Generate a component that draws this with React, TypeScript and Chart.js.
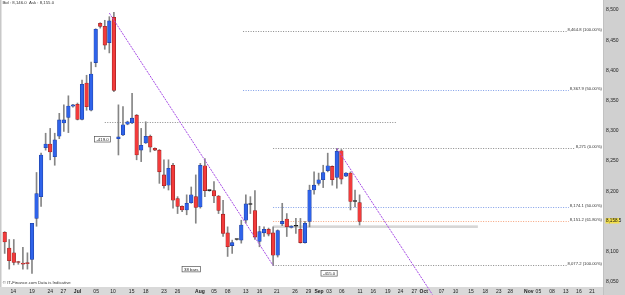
import React, { useEffect, useRef } from "react";
import { Chart, registerables } from "chart.js";

Chart.register(...registerables);

// ---- Daily candles (index = trading bar) ----
const opens = [
  8132, 8106, 8098, 8083, 8081, 8082, 8087, 8155, 8191, 8272,
  8278, 8257, 8291, 8313, 8322, 8341, 8344, 8319, 8379, 8334,
  8413, 8478, 8473, 8446, 8488, 8287, 8293, 8311, 8313, 8326,
  8268, 8280, 8291, 8271, 8268, 8227, 8210, 8243, 8188, 8175,
  8169, 8181, 8191, 8174, 8242, 8201, 8201, 8192, 8162, 8131,
  8110, 8120, 8119, 8152, 8178, 8168, 8117, 8131, 8137, 8131,
  8094, 8146, 8154, 8140, 8142, 8137, 8115, 8150, 8202, 8213,
  8219, 8234, 8241, 8223, 8267, 8225, 8230, 8183, 8181,
];
const highs = [
  8133, 8120, 8120, 8084, 8107, 8098, 8147, 8231, 8263, 8296,
  8304, 8296, 8329, 8343, 8358, 8344, 8346, 8384, 8392, 8414,
  8469, 8479, 8483, 8489, 8496, 8343, 8340, 8316, 8362, 8327,
  8304, 8315, 8293, 8272, 8269, 8252, 8252, 8246, 8191, 8176,
  8194, 8207, 8227, 8246, 8254, 8202, 8216, 8193, 8185, 8141,
  8119, 8121, 8152, 8194, 8191, 8201, 8142, 8141, 8139, 8141,
  8136, 8180, 8163, 8143, 8155, 8155, 8150, 8210, 8232, 8230,
  8243, 8263, 8242, 8271, 8269, 8231, 8232, 8202, 8194,
];
const lows = [
  8097, 8071, 8078, 8079, 8071, 8071, 8064, 8142, 8175, 8268,
  8252, 8243, 8287, 8299, 8297, 8339, 8318, 8318, 8334, 8333,
  8406, 8470, 8435, 8429, 8365, 8260, 8292, 8310, 8312, 8252,
  8249, 8279, 8265, 8267, 8213, 8205, 8202, 8172, 8163, 8166,
  8161, 8180, 8147, 8172, 8191, 8200, 8181, 8163, 8125, 8092,
  8097, 8119, 8114, 8147, 8163, 8120, 8108, 8125, 8126, 8077,
  8091, 8143, 8125, 8139, 8130, 8114, 8114, 8141, 8195, 8210,
  8206, 8232, 8210, 8205, 8212, 8224, 8169, 8174, 8144,
];
const closes = [
  8116, 8085, 8082, 8082, 8079, 8080, 8147, 8196, 8260, 8278,
  8265, 8285, 8318, 8318, 8341, 8343, 8319, 8377, 8340, 8394,
  8468, 8473, 8442, 8482, 8367, 8290, 8310, 8315, 8321, 8260,
  8276, 8291, 8273, 8268, 8232, 8209, 8238, 8185, 8175, 8169,
  8180, 8194, 8173, 8243, 8201, 8201, 8192, 8168, 8130, 8108,
  8115, 8120, 8144, 8179, 8178, 8124, 8133, 8137, 8129, 8094,
  8135, 8150, 8141, 8142, 8142, 8115, 8147, 8202, 8210, 8219,
  8231, 8242, 8219, 8266, 8220, 8230, 8183, 8183, 8150,
];

// ---- Date axis ----
const tickPositions = [
  1.9, 6, 10, 12.9, 16, 20.1, 23.8, 27.9, 31, 35, 38, 42.9, 46, 49, 53, 56,
  59.8, 63.8, 66.8, 69.1, 71.3, 74.1, 78.1, 81, 84.2, 87, 90, 92.1, 96, 99.1,
  102.5, 105.6, 108.6, 111.1, 115.2, 117.3, 120.3, 123.3, 126.2, 129.1,
];
const tickLabels = [
  "14", "19", "24", "27", "Jul", "05", "10", "15", "18", "23", "26", "Aug", "05", "08", "13", "16",
  "21", "26", "29", "Sep", "03", "06", "11", "16", "19", "24", "27", "Oct", "07", "10",
  "15", "18", "23", "28", "Nov", "05", "08", "13", "16", "21",
];
const monthLabels = ["Jul", "Aug", "Sep", "Oct", "Nov"];

// ---- Trend lines ----
const trendA_x = [23, 59];
const trendA_y = [8495, 8077];
const trendB_x = [73, 94];
const trendB_y = [8271, 8029];

// ---- Fibonacci levels ----
const fibValues = [8464.8, 8367.9, 8271, 8174.1, 8151.2, 8077.2];
const fibLabels = [
  "8,464.8 (100.00%)",
  "8,367.9 (50.00%)",
  "8,271 (0.00%)",
  "8,174.1 (50.00%)",
  "8,151.2 (61.80%)",
  "8,077.2 (100.00%)",
];
const fibStarts = [52.4, 52.4, 59, 59, 59, 59];
const fibColors = ["#8a8a8a", "#7f9ee8", "#8a8a8a", "#7f9ee8", "#f6a37c", "#8a8a8a"];

// other horizontal marks
const hLineValue = 8314.6;
const hLineRange = [22, 86.2];
const bandValue = 8141.3;
const bandRange = [59, 104];

// measurement notes
const noteTexts = ["-419.0", "38 bars", "-415.0"];
const noteX = [21.5, 41, 71.3];
const noteY = [8286, 8071, 8064];

const priceTagText = "8,158.5";
const priceTagAt = 8151;
const headerText = "Bid : 8,146.0  Ask : 8,155.0";
const footerText = "\u00a9 IT-Finance.com Data is Indicative";

const FONT = "'Liberation Sans', Arial, sans-serif";

const fmt = (v: number) => {
  const s = Math.round(v).toString();
  return s.length > 3 ? s.slice(0, s.length - 3) + "," + s.slice(s.length - 3) : s;
};

const decor = {
  id: "decor",
  beforeDraw(chart: any) {
    const { ctx, chartArea, width, height } = chart;
    ctx.save();
    ctx.fillStyle = "#ffffff";
    ctx.fillRect(0, 0, width, height);
    ctx.fillStyle = "#d9d9d9";
    ctx.fillRect(0, chartArea.bottom, width, height - chartArea.bottom);
    ctx.fillStyle = "#d0d0d0";
    ctx.fillRect(chartArea.right, 0, width - chartArea.right, height);
    ctx.fillStyle = "#bdbdbd";
    ctx.fillRect(chartArea.right, 0, 0.8, height);
    ctx.fillStyle = "#c8c8c8";
    ctx.fillRect(0, 0, 1.5, chartArea.bottom);
    ctx.restore();
  },
  beforeDatasetsDraw(chart: any) {
    const { ctx, chartArea, scales } = chart;
    const xs = scales.x;
    const ys = scales.y;
    ctx.save();
    ctx.beginPath();
    ctx.rect(chartArea.left, chartArea.top, chartArea.right - chartArea.left, chartArea.bottom - chartArea.top);
    ctx.clip();

    // gray band
    const by = ys.getPixelForValue(bandValue);
    ctx.fillStyle = "#d6d6d6";
    const bx0 = xs.getPixelForValue(bandRange[0]);
    const bx1 = xs.getPixelForValue(bandRange[1]);
    ctx.fillRect(bx0, by - 1.3, bx1 - bx0, 2.6);

    // horizontal line
    ctx.lineWidth = 1;
    ctx.setLineDash([1, 1.5]);
    ctx.strokeStyle = "#8a8a8a";
    const hy = Math.round(ys.getPixelForValue(hLineValue)) + 0.5;
    ctx.beginPath();
    ctx.moveTo(xs.getPixelForValue(hLineRange[0]), hy);
    ctx.lineTo(xs.getPixelForValue(hLineRange[1]), hy);
    ctx.stroke();

    // fib lines
    ctx.font = `4.2px ${FONT}`;
    ctx.textAlign = "right";
    ctx.textBaseline = "middle";
    fibValues.forEach((v, i) => {
      const y = Math.round(ys.getPixelForValue(v)) + 0.5;
      const tw = ctx.measureText(fibLabels[i]).width;
      const xEnd = chartArea.right - 1 - tw - 1;
      ctx.strokeStyle = fibColors[i];
      ctx.setLineDash([1, 1.5]);
      ctx.beginPath();
      ctx.moveTo(xs.getPixelForValue(fibStarts[i]), y);
      ctx.lineTo(xEnd, y);
      ctx.stroke();
      ctx.fillStyle = "#333";
      ctx.fillText(fibLabels[i], chartArea.right - 1, y - 1.2);
    });
    ctx.restore();
  },
  afterDatasetsDraw(chart: any) {
    const { ctx, chartArea, scales } = chart;
    const xs = scales.x;
    const ys = scales.y;
    ctx.save();
    ctx.font = `4.3px ${FONT}`;
    ctx.textAlign = "center";
    ctx.textBaseline = "middle";
    noteTexts.forEach((t, i) => {
      const cx = xs.getPixelForValue(noteX[i]);
      const cy = ys.getPixelForValue(noteY[i]);
      const w = ctx.measureText(t).width + 4;
      const h = 5.5;
      ctx.fillStyle = "#ffffff";
      ctx.fillRect(cx - w / 2, cy - h / 2, w, h);
      ctx.strokeStyle = "#555";
      ctx.lineWidth = 0.7;
      ctx.setLineDash([]);
      ctx.strokeRect(cx - w / 2, cy - h / 2, w, h);
      ctx.fillStyle = "#222";
      ctx.fillText(t, cx, cy + 0.2);
    });
    ctx.textAlign = "left";
    ctx.fillStyle = "#333";
    ctx.font = `4.3px ${FONT}`;
    ctx.fillText(headerText, chartArea.left + 0.5, 2.6);
    ctx.fillText(footerText, chartArea.left + 0.8, chartArea.bottom - 4.2);
    ctx.restore();
  },
  afterDraw(chart: any) {
    const { ctx, chartArea, scales } = chart;
    const ys = scales.y;
    ctx.save();
    const y = ys.getPixelForValue(priceTagAt);
    ctx.fillStyle = "#f4e04a";
    ctx.fillRect(chartArea.right + 2.5, y - 2.7, 14, 5.4);
    ctx.fillStyle = "#111";
    ctx.font = `4.6px ${FONT}`;
    ctx.textAlign = "left";
    ctx.textBaseline = "middle";
    ctx.fillText(priceTagText, chartArea.right + 3, y + 0.2);
    ctx.restore();
  },
};

export default function App() {
  const ref = useRef<HTMLCanvasElement>(null);

  useEffect(() => {
    if (!ref.current) return;
    const bodyColors = opens.map((o, i) =>
      closes[i] > o ? "#2f63ea" : closes[i] < o ? "#f23b3b" : "#111111"
    );
    const bodyBorders = opens.map((o, i) =>
      closes[i] > o ? "#1b3c9c" : closes[i] < o ? "#8e1f1f" : "#111111"
    );
    const tickMap = new Map<number, string>();
    tickPositions.forEach((p, i) => tickMap.set(p, tickLabels[i]));

    const chart = new Chart(ref.current, {
      type: "bar",
      data: {
        datasets: [
          {
            type: "line",
            data: trendA_x.map((x, i) => ({ x, y: trendA_y[i] })),
            borderColor: "#a74ce6",
            borderWidth: 1,
            borderDash: [2, 1],
            pointRadius: 0,
            order: 0,
          } as any,
          {
            type: "line",
            data: trendB_x.map((x, i) => ({ x, y: trendB_y[i] })),
            borderColor: "#a74ce6",
            borderWidth: 1,
            borderDash: [2, 1],
            pointRadius: 0,
            clip: false,
            order: 0,
          } as any,
          {
            type: "bar",
            data: opens.map((o, i) => ({ x: i, y: [o, closes[i]] })),
            backgroundColor: bodyColors,
            borderColor: bodyBorders,
            borderWidth: 0.6,
            borderSkipped: false,
            barThickness: 3.6,
            minBarLength: 1,
            grouped: false,
            order: 1,
          } as any,
          {
            type: "bar",
            data: lows.map((l, i) => ({ x: i, y: [l, highs[i]] })),
            backgroundColor: "#858585",
            borderWidth: 0,
            barThickness: 1,
            grouped: false,
            order: 2,
          } as any,
        ],
      },
      options: {
        animation: false,
        responsive: false,
        events: [],
        layout: { padding: { left: 2, right: 0, top: 0, bottom: 0 } },
        plugins: { legend: { display: false }, tooltip: { enabled: false } },
        scales: {
          x: {
            type: "linear",
            position: "bottom",
            min: -0.59,
            max: 131.5,
            offset: false,
            grid: { display: false, drawTicks: false },
            border: { display: false },
            afterBuildTicks: (s: any) => {
              s.ticks = tickPositions.map((v) => ({ value: v }));
            },
            afterFit: (s: any) => {
              s.height = 8;
              s.paddingLeft = 0;
              s.paddingRight = 0;
            },
            ticks: {
              autoSkip: false,
              maxRotation: 0,
              minRotation: 0,
              padding: 1.6,
              color: "#222",
              font: (c: any) => {
                const lbl = c.tick ? tickMap.get(c.tick.value) : "";
                return {
                  size: 5,
                  family: FONT,
                  weight: lbl && monthLabels.includes(lbl) ? "bold" : "normal",
                };
              },
              callback: (v: any) => tickMap.get(v) ?? "",
            },
          } as any,
          y: {
            type: "linear",
            position: "right",
            min: 8041.4,
            max: 8516.6,
            grid: { display: false, drawTicks: false },
            border: { display: false },
            afterFit: (s: any) => {
              s.width = 22;
              s.paddingTop = 0;
              s.paddingBottom = 0;
            },
            ticks: {
              stepSize: 50,
              includeBounds: false,
              padding: 3,
              color: "#222",
              font: { size: 5, family: FONT },
              callback: (v: any) => fmt(Number(v)),
            },
          } as any,
        },
      },
      plugins: [decor],
    });
    return () => chart.destroy();
  }, []);

  return (
    <div style={{ position: "fixed", left: 0, top: 0, width: 625, height: 295 }}>
      <canvas ref={ref} width={625} height={295} style={{ display: "block" }} />
    </div>
  );
}
